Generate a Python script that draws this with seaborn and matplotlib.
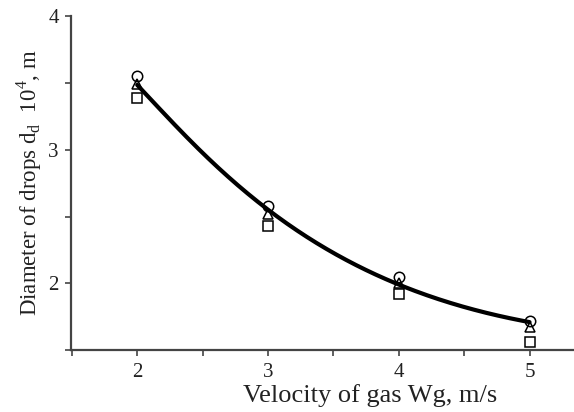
import numpy as np
import pandas as pd
import matplotlib
matplotlib.use("Agg")
import matplotlib.pyplot as plt
import seaborn as sns

# Data
velocity = [2, 3, 4, 5]
series_circle = [3.55, 2.58, 2.05, 1.72]
series_triangle = [3.49, 2.52, 2.00, 1.67]
series_square = [3.39, 2.43, 1.92, 1.565]
curve_x = [2.0, 2.5, 3.0, 3.5, 4.0, 4.5, 5.0]
curve_values = [3.48, 3.00, 2.52, 2.23, 2.00, 1.835, 1.70]
x_ticks = [2, 3, 4, 5]
y_ticks = [2, 3, 4]

sns.set_theme(style="ticks")
plt.rcParams['font.family'] = ['Liberation Serif', 'DejaVu Serif']
plt.rcParams['mathtext.fontset'] = 'custom'
plt.rcParams['mathtext.rm'] = 'Liberation Serif'

df = pd.DataFrame({
    "x": velocity * 3,
    "y": series_circle + series_triangle + series_square,
    "s": ["circle"] * 4 + ["triangle"] * 4 + ["square"] * 4,
})

fig = plt.figure(figsize=(5.74, 4.12), dpi=100)
ax = fig.add_axes([0.124, 0.150, 0.876, 0.811])

# smooth least-squares trend curve: y = a + b*x + c/x + d/x^2
cx = np.asarray(curve_x)
basis = lambda x: np.column_stack([np.ones_like(x), x, 1 / x, 1 / x**2])
coef, *_ = np.linalg.lstsq(basis(cx), np.asarray(curve_values), rcond=None)
xs = np.linspace(cx.min(), cx.max(), 200)
cdf = pd.DataFrame({"x": xs, "y": basis(xs) @ coef})
sns.lineplot(data=cdf, x="x", y="y", ax=ax, color="black", lw=3, zorder=2)

markers = {"circle": "o", "triangle": "^", "square": "s"}
for name, m in markers.items():
    sub = df[df.s == name]
    ax.plot(sub.x, sub.y, linestyle="none", marker=m, markersize=7.5,
            markerfacecolor="none", markeredgecolor="black", markeredgewidth=1.1, zorder=3)

ax.set_xlim(1.495, 5.34)
ax.set_ylim(1.5, 4.0)
ax.set_xticks(x_ticks)
ax.set_yticks(y_ticks)
ax.set_xticks([1.5, 2.5, 3.5, 4.5], minor=True)
ax.set_yticks([1.5, 2.5, 3.5], minor=True)
ax.tick_params(axis="both", which="both", length=4, width=1.2, color="#444444",
               labelsize=15, labelcolor="#222222", pad=5)
for side in ["top", "right"]:
    ax.spines[side].set_visible(False)
for side in ["left", "bottom"]:
    ax.spines[side].set_color("#444444")
    ax.spines[side].set_linewidth(1.6)

ax.set_xlabel("Velocity of gas Wg, m/s", fontsize=19, color="#222222", va="center")
ax.xaxis.set_label_coords(0.594, -0.135)
ax.set_ylabel(r"Diameter of drops d$_{\mathregular{d}}$  10$^{\mathregular{4}}$, m",
              fontsize=16.5, color="#222222", labelpad=3)

fig.savefig("out.png", dpi=100)
